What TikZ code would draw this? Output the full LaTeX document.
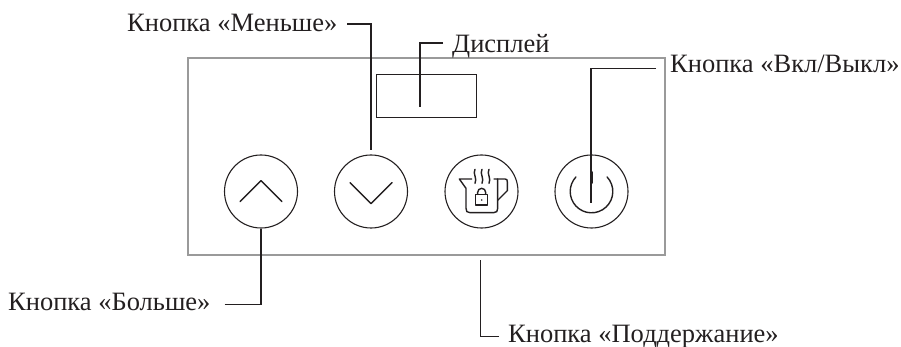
\documentclass[tikz,border=0pt]{standalone}
\usepackage{fontspec}
\setmainfont{Liberation Serif}
\definecolor{inkcol}{HTML}{231F20}
\definecolor{panelcol}{HTML}{9A9A9A}
\tikzset{
    panelbox/.style={draw=panelcol,line width=1.3pt,inner sep=0pt,minimum width=477pt,minimum height=197pt},
    screenbox/.style={draw=inkcol,line width=1.1pt,inner sep=0pt,minimum width=100pt,minimum height=43pt},
    btn/.style={circle,draw=inkcol,line width=1.1pt,inner sep=0pt,minimum size=73pt},
    callout/.style={draw=inkcol,line width=1.1pt},
    icon/.style={draw=inkcol,line width=1.4pt,line cap=round,line join=round},
    lbl/.style={inner sep=0pt,text=inkcol,text height=13pt,text depth=4pt,font=\fontsize{26.5}{26.5}\selectfont}
}
\begin{document}
\begin{tikzpicture}[x=1pt,y=-1pt]
    \useasboundingbox (0,0) rectangle (901,347);
    \node[panelbox] (panel) at (426.5,156.5) {};
    \node[screenbox] (screen) at (426.5,96) {};
    \node[btn] (btnUp) at (261,191.5) {};
    \node[btn] (btnDown) at (371,191.5) {};
    \node[btn] (btnKeep) at (481.5,191.5) {};
    \node[btn] (btnPower) at (591.5,191.5) {};
    % button icons
    \draw[icon] (240,201.7) -- (261,180.7) -- (282,201.7);
    \draw[icon] (350,182.7) -- (371,203.7) -- (392,182.7);
    \draw[icon] ([shift={(-43:21.3)}]btnPower.center) arc[start angle=-43,end angle=223,radius=21.3];
    \draw[icon,line width=2pt] (591.5,172) -- (591.5,183);
    \begin{scope}[shift={(420,140)},scale=1/3]
        \draw[icon] (155,117) -- (118,117) -- (138,145) -- (138,205)
                    .. controls (138,214) and (141,218) .. (150,218) -- (221,218)
                    .. controls (230,218) and (233,214) .. (233,205) -- (233,117) -- (222,117);
        \draw[icon] (233,117) -- (255,117) .. controls (261,117) and (262,120) .. (262,126)
                    -- (262,152) -- (233,181);
        \foreach \sx in {165,186,207}
            \draw[icon] (\sx,88) .. controls (\sx-8,100) and (\sx+8,116) .. (\sx,130);
        \draw[icon,line width=1.6pt] (167,163) rectangle (203,195);
        \draw[icon] (173,163) -- (173,157) arc[start angle=180,end angle=360,radius=12] -- (197,163);
        \fill[inkcol] (185,180) circle[radius=2.6];
    \end{scope}
    % labels
    \node[lbl,anchor=west] (lblLess) at (127,27.5) {Кнопка «Меньше»};
    \node[lbl,anchor=west] (lblScreen) at (452,48.5) {Дисплей};
    \node[lbl,anchor=west] (lblPower) at (670,68.5) {Кнопка «Вкл/Выкл»};
    \node[lbl,anchor=west] (lblMore) at (8,305.5) {Кнопка «Больше»};
    \node[lbl,anchor=west] (lblKeep) at (508,337.5) {Кнопка «Поддержание»};
    \coordinate (screenEnd) at (420,107);
    \coordinate (powerEnd) at (591,203);
    \coordinate (keepEnd) at (480.7,260);
    % connectors
    \draw[callout,shorten <=10pt,shorten >=4pt] ([yshift=3.5pt]lblLess.east) -| (btnDown.north);
    \draw[callout,shorten <=9pt] ([yshift=5.5pt]lblScreen.west) -| (screenEnd);
    \draw[callout,shorten <=14pt] (lblPower.west) -| (powerEnd);
    \draw[callout,shorten <=14pt] ([yshift=1.2pt]lblMore.east) -| (btnUp.south);
    \draw[callout,shorten <=9pt] ([yshift=.8pt]lblKeep.west) -| (keepEnd);
\end{tikzpicture}
\end{document}
